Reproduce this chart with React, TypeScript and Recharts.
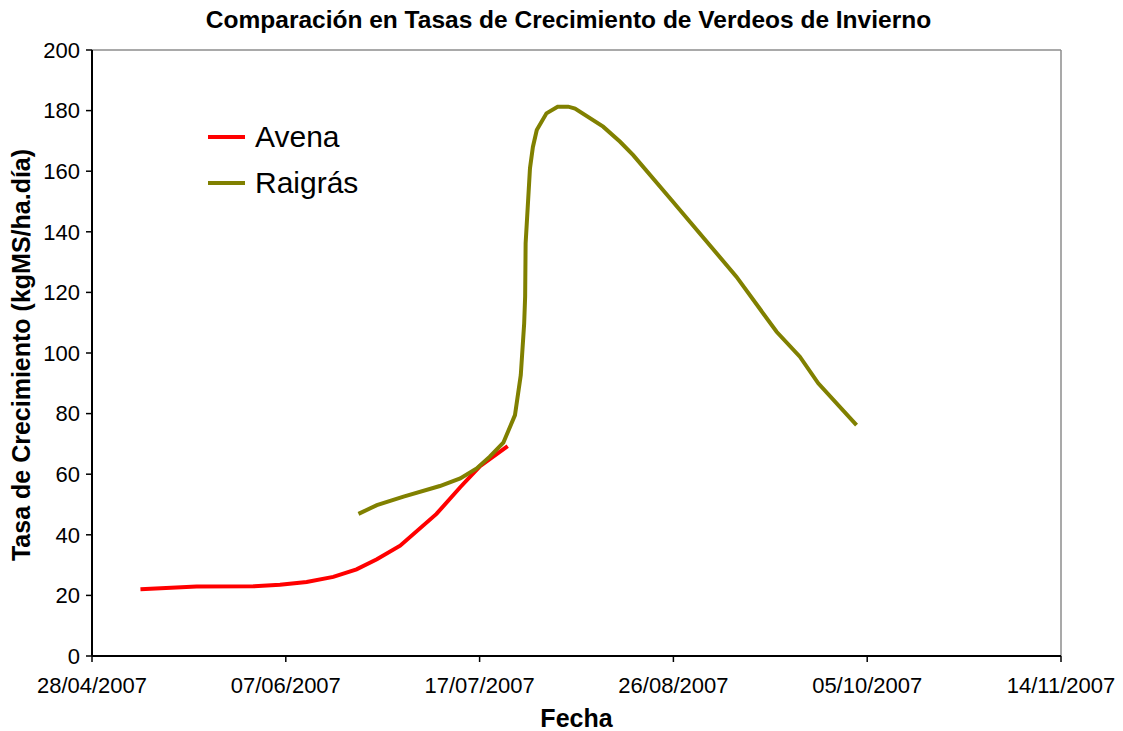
import React from 'react';
import { LineChart, Line, XAxis, YAxis, Legend, ReferenceLine } from 'recharts';

const FONT = '"Liberation Sans", Arial, sans-serif';
const INICIO = Date.UTC(2007, 3, 28); // 28/04/2007 = día 0

// ticks (días desde 28/04/2007)
const xTicks = [0, 40, 80, 120, 160, 200];
const yTicks = [0, 20, 40, 60, 80, 100, 120, 140, 160, 180, 200];

// Avena
const avenaDias = [10, 21.6, 33.3, 38.8, 44.3, 49.8, 54.6, 58.8, 63.6, 71.1, 76, 80.1, 85.8];
const avenaTasa = [22.0, 22.9, 23.0, 23.5, 24.4, 26.1, 28.6, 31.9, 36.4, 46.9, 55.7, 62.7, 69.3];

// Raigrás
const raigrasDias = [
  55, 58.8, 64.3, 71.8, 76, 79.4, 82.1, 84.9, 87.3, 88.5, 89.2, 89.4, 89.5, 90.4, 91, 91.8,
  93.8, 96.1, 98.3, 99.7, 105.5, 109, 111.7, 119.6, 133, 141.3, 146.1, 149.9, 157.8,
];
const raigrasTasa = [
  46.9, 49.8, 52.6, 56.1, 58.6, 61.9, 65.8, 70.4, 79.5, 92.7, 109.8, 118.6, 136.2, 161, 168, 173.6,
  179.1, 181.3, 181.3, 180.7, 174.7, 169.7, 165.3, 150.5, 125.2, 107, 98.8, 90, 76.2,
];

const avena = avenaDias.map((dia, i) => ({ dia, tasa: avenaTasa[i] }));
const raigras = raigrasDias.map((dia, i) => ({ dia, tasa: raigrasTasa[i] }));

const fecha = (dia: number) => {
  const d = new Date(INICIO + dia * 86400000);
  const dd = String(d.getUTCDate()).padStart(2, '0');
  const mm = String(d.getUTCMonth() + 1).padStart(2, '0');
  return `${dd}/${mm}/${d.getUTCFullYear()}`;
};

const YLabel = () => (
  <text
    x={30}
    y={355}
    transform="rotate(-90, 30, 355)"
    textAnchor="middle"
    fontFamily={FONT}
    fontWeight="bold"
    fontSize={25}
    fill="#000"
  >
    Tasa de Crecimiento (kgMS/ha.día)
  </text>
);

const Leyenda = (props: any) => (
  <div style={{ fontFamily: FONT }}>
    {(props.payload || []).map((p: any) => (
      <div key={p.value} style={{ display: 'flex', alignItems: 'center', height: 46 }}>
        <div style={{ width: 37, height: 4, background: p.color, marginRight: 10 }} />
        <span style={{ fontSize: 30, color: '#000' }}>{p.value}</span>
      </div>
    ))}
  </div>
);

export default function App() {
  return (
    <div style={{ position: 'absolute', left: 0, top: 0, width: 1123, height: 731, background: '#fff' }}>
      <div
        style={{
          position: 'absolute',
          top: 6,
          left: 0,
          width: 1137,
          textAlign: 'center',
          fontFamily: FONT,
          fontWeight: 'bold',
          fontSize: 24.5,
          color: '#000',
        }}
      >
        Comparación en Tasas de Crecimiento de Verdeos de Invierno
      </div>
      <LineChart width={1123} height={731} margin={{ top: 50, right: 62, left: 20, bottom: 0 }}>
        <XAxis
          dataKey="dia"
          type="number"
          domain={[0, 200]}
          ticks={xTicks}
          tickFormatter={fecha}
          allowDataOverflow
          height={75}
          tickSize={6}
          tickMargin={15}
          axisLine={{ stroke: '#000', strokeWidth: 2 }}
          tickLine={{ stroke: '#000', strokeWidth: 1.5 }}
          tick={{ fill: '#000', fontSize: 22, fontFamily: FONT }}
          label={{
            value: 'Fecha',
            position: 'insideBottom',
            offset: 4,
            fill: '#000',
            fontSize: 25,
            fontWeight: 'bold',
            fontFamily: FONT,
          }}
        />
        <YAxis
          type="number"
          domain={[0, 200]}
          ticks={yTicks}
          interval={0}
          width={72}
          tickSize={6}
          tickMargin={6}
          axisLine={{ stroke: '#000', strokeWidth: 2 }}
          tickLine={{ stroke: '#000', strokeWidth: 1.5 }}
          tick={{ fill: '#000', fontSize: 22, fontFamily: FONT }}
          label={<YLabel />}
        />
        <ReferenceLine y={200} stroke="#8c8c8c" strokeWidth={1.5} />
        <ReferenceLine x={200} stroke="#8c8c8c" strokeWidth={1.5} />
        <Legend
          layout="vertical"
          align="center"
          verticalAlign="middle"
          content={<Leyenda />}
          wrapperStyle={{ position: 'absolute', left: 208, top: 114, width: 200 }}
        />
        <Line
          name="Avena"
          data={avena}
          dataKey="tasa"
          type="linear"
          stroke="#FF0000"
          strokeWidth={4}
          dot={false}
          isAnimationActive={false}
        />
        <Line
          name="Raigrás"
          data={raigras}
          dataKey="tasa"
          type="linear"
          stroke="#808000"
          strokeWidth={4}
          dot={false}
          isAnimationActive={false}
        />
      </LineChart>
    </div>
  );
}
